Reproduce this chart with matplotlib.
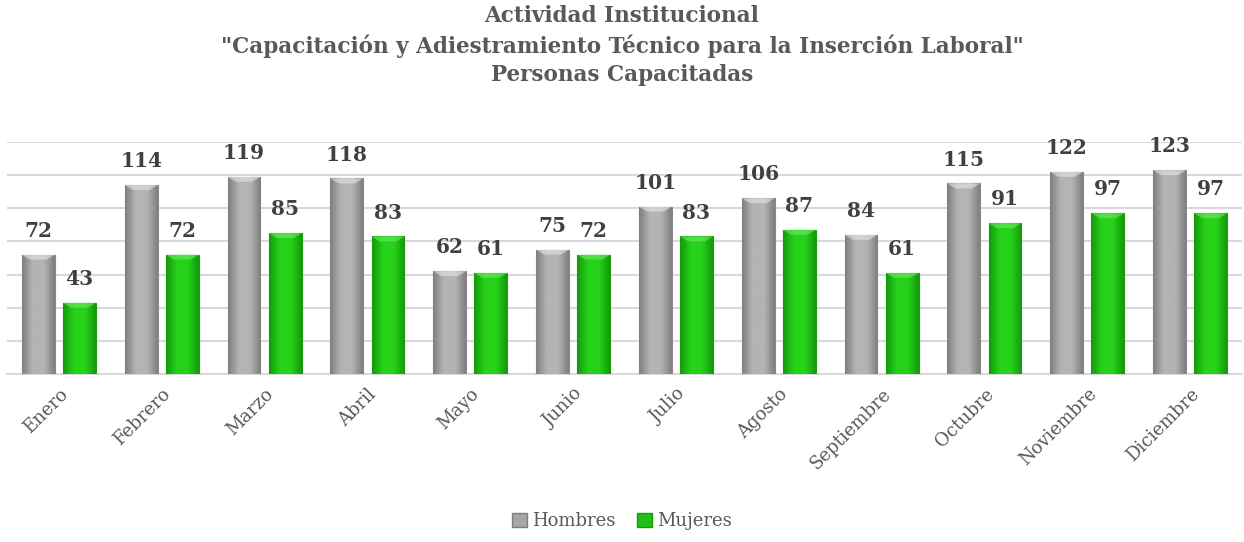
import matplotlib
matplotlib.use("Agg")
import matplotlib.pyplot as plt
import numpy as np
from matplotlib.patches import Patch, Polygon
from matplotlib.colors import LinearSegmentedColormap

months = ["Enero", "Febrero", "Marzo", "Abril", "Mayo", "Junio", "Julio",
          "Agosto", "Septiembre", "Octubre", "Noviembre", "Diciembre"]
hombres = [72, 114, 119, 118, 62, 75, 101, 106, 84, 115, 122, 123]
mujeres = [43, 72, 85, 83, 61, 72, 83, 87, 61, 91, 97, 97]
series_names = ["Hombres", "Mujeres"]

title = ('Actividad Institucional\n'
         '"Capacitación y Adiestramiento Técnico para la Inserción Laboral"\n'
         'Personas Capacitadas')

FONT = "DejaVu Serif"
plt.rcParams['font.family'] = [FONT, 'DejaVu Sans']

fig = plt.figure(figsize=(12.44, 5.42), dpi=100)
ax = fig.add_axes([0.006, 0.310, 0.992, 0.428])

x = np.arange(len(months))
w = 0.32
off = 0.2

gray_edge, gray_mid = "#7f7f7f", "#b4b4b4"
green_edge, green_mid = "#139a0b", "#27d21a"

def shaded(bars, edge, mid, top):
    cmap = LinearSegmentedColormap.from_list("c", [edge, mid, mid, edge])
    grad = np.linspace(0, 1, 64).reshape(1, -1)
    for b in bars:
        x0, y0 = b.get_x(), b.get_y()
        bw, bh = b.get_width(), b.get_height()
        im = ax.imshow(grad, cmap=cmap, aspect='auto',
                       extent=[x0, x0 + bw, y0, y0 + bh], zorder=3,
                       interpolation='bicubic')
        im.set_clip_path(b)
        # top bevel highlight
        d = min(3.0, bh)
        tri = Polygon([[x0, y0 + bh], [x0 + bw, y0 + bh],
                       [x0 + bw * 0.75, y0 + bh - d], [x0 + bw * 0.25, y0 + bh - d]],
                      closed=True, facecolor=top, edgecolor="none",
                      alpha=0.6, zorder=4)
        ax.add_patch(tri)

b1 = ax.bar(x - off, hombres, w, color=gray_mid, edgecolor="#8a8a8a",
            linewidth=0.8, zorder=3)
b2 = ax.bar(x + off, mujeres, w, color=green_mid, edgecolor="#16a00e",
            linewidth=0.8, zorder=3)
shaded(b1, gray_edge, gray_mid, "#e6e6e6")
shaded(b2, green_edge, green_mid, "#6fe866")

for bars, vals in ((b1, hombres), (b2, mujeres)):
    for b, v in zip(bars, vals):
        ax.annotate(str(v), (b.get_x() + b.get_width() / 2, v),
                    xytext=(0, 10), textcoords="offset points",
                    ha="center", va="bottom", fontsize=14.5,
                    fontweight="bold", color="#404040", zorder=5)

ax.set_xlim(-0.5, len(months) - 0.5)
ax.set_ylim(0, 140)
ax.set_yticks(np.arange(0, 141, 20))
ax.yaxis.grid(True, color="#d9d9d9", linewidth=1.5, zorder=0)
ax.set_axisbelow(True)
ax.tick_params(axis='y', left=False, labelleft=False)
ax.tick_params(axis='x', length=0, pad=8)
ax.set_xticks(x)
ax.set_xticklabels(months, rotation=45, ha='right', rotation_mode='anchor',
                   fontsize=13, color="#595959")
for s in ["top", "right", "left"]:
    ax.spines[s].set_visible(False)
ax.spines["bottom"].set_color("#d9d9d9")
ax.spines["bottom"].set_linewidth(1.5)

fig.text(0.5, 0.99, title, ha="center", va="top", fontsize=15.5,
         fontweight="bold", color="#595959", linespacing=1.38)

handles = [Patch(facecolor="#a6a6a6", edgecolor="#7f7f7f"),
           Patch(facecolor="#22c017", edgecolor="#139a0b")]
fig.legend(handles, series_names, loc="center", bbox_to_anchor=(0.5, 0.038),
           ncol=2, frameon=False, fontsize=13, handlelength=0.8,
           handleheight=0.8, handletextpad=0.3, columnspacing=1.2,
           labelcolor="#595959")

fig.savefig("out.png", dpi=100)
